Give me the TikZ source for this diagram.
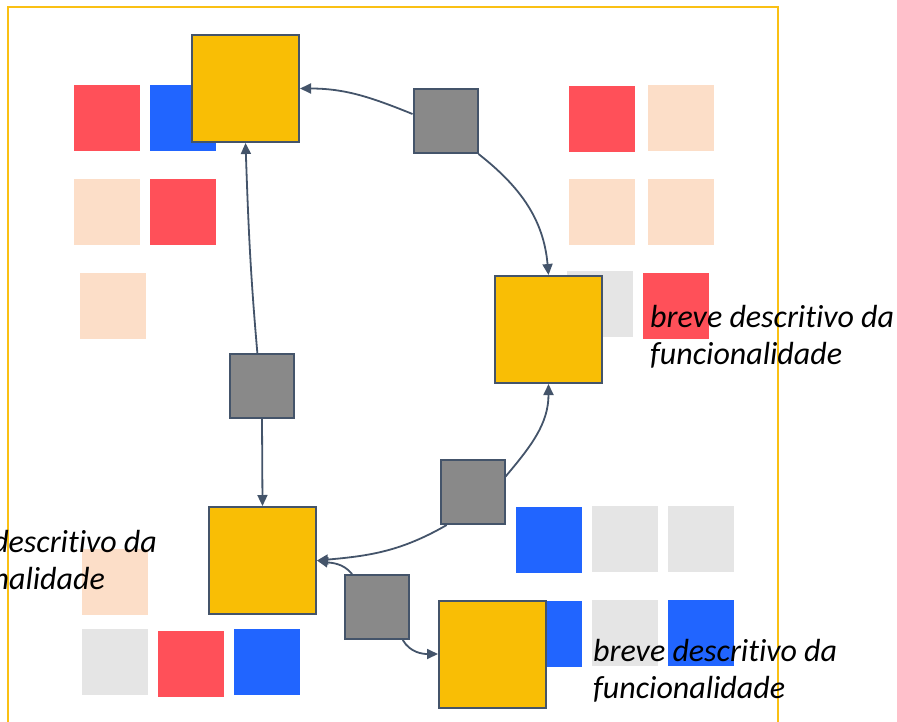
\documentclass[tikz,border=0pt]{standalone}
\usepackage{fontspec}
\setmainfont{Carlito}[Ligatures={NoCommon,NoRare}]
\usetikzlibrary{arrows.meta}
\definecolor{fnyellow}{RGB}{249,190,5}
\definecolor{fnframe}{RGB}{250,192,20}
\definecolor{fnslate}{RGB}{68,84,106}
\definecolor{fngray}{RGB}{137,137,137}
\definecolor{fnred}{RGB}{255,80,89}
\definecolor{fnblue}{RGB}{33,101,255}
\definecolor{fnpeach}{RGB}{252,222,200}
\definecolor{fnlight}{RGB}{229,229,229}
\tikzset{
  fnbox/.style={draw=fnslate, line width=2pt, fill=fnyellow, minimum size=107pt, inner sep=0pt},
  fnstep/.style={draw=fnslate, line width=2pt, fill=fngray, minimum size=64pt, inner sep=0pt},
  fntile/.style={minimum size=66pt, inner sep=0pt},
  fnarr/.style={-{Triangle[length=11pt,width=10pt]}, line width=1.8pt, draw=fnslate},
  fnnote/.style={font=\fontsize{32}{37}\selectfont\itshape, align=left, inner sep=0pt}
}

\begin{document}
\begin{tikzpicture}[x=1pt, y=1pt]
  \useasboundingbox (0,0) rectangle (897,-721);
  \draw[fnframe, line width=2pt] (8,-7) rectangle (778,-740);
  % card tiles
  \foreach \x/\y/\c [count=\i] in {107/118/fnred, 183/118/fnblue, 107/212/fnpeach, 183/212/fnred, 113/306/fnpeach,
      602/119/fnred, 681/118/fnpeach, 602/212/fnpeach, 681/212/fnpeach, 600/304/fnlight, 676/306/fnred,
      549/540/fnblue, 625/539/fnlight, 701/539/fnlight, 549/634/fnblue, 625/633/fnlight, 701/633/fnblue,
      115/582/fnpeach, 115/662/fnlight, 191/664/fnred, 267/662/fnblue}
    \node[fntile, fill=\c] (t\i) at (\x,-\y) {};
  % steps
  \node[fnstep] (g1) at (445.5,-121) {};
  \node[fnstep] (g2) at (262,-386) {};
  \node[fnstep] (g3) at (472.5,-492) {};
  \node[fnstep] (g4) at (377,-607) {};
  % features
  \node[fnbox] (y1) at (245.5,-88.5) {};
  \node[fnbox] (y2) at (548.5,-329.5) {};
  \node[fnbox] (y3) at (262.5,-560.5) {};
  \node[fnbox] (y4) at (492.5,-654) {};
  \draw[fnarr] (g1.168) to[out=158,in=0] (y1.east);
  \draw[fnarr] (g1.south east) to[out=-38,in=95] (y2.north);
  \draw[fnarr] (g2.98) to[out=95,in=-88] (y1.south);
  \draw[fnarr] (g2.south) -- (y3.north);
  \draw[fnarr] (g3.25) to[out=50,in=-90] (y2.south);
  \draw[fnarr] (g3.-128) to[out=-150,in=5] (y3.east);
  \draw[fnarr] (g4.127) to[out=130,in=-10] (y3.east);
  \draw[fnarr] (g4.-52) to[out=-60,in=180] (y4.west);
  % descriptions
  \node[fnnote, anchor=north west] (d1) at (650,-305) {breve descritivo da\\funcionalidade};
  \node[fnnote, anchor=north east] (d2) at (157,-530) {breve descritivo da\\funcionalidade};
  \node[fnnote, anchor=north west] (d3) at (593,-639) {breve descritivo da\\funcionalidade};
\end{tikzpicture}
\end{document}
